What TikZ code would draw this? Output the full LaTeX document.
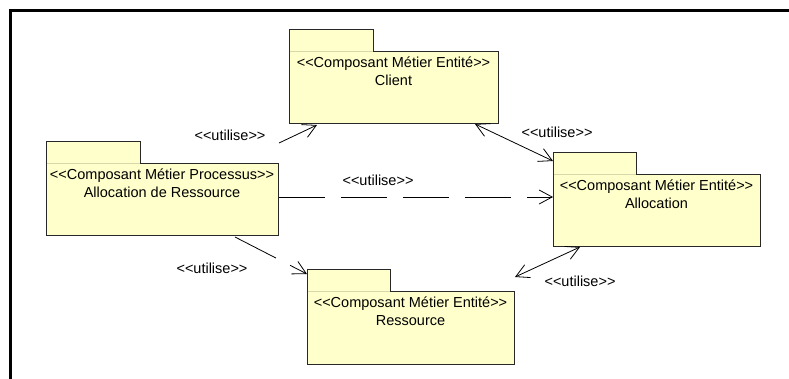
\documentclass[tikz,border=0pt]{standalone}
\usepackage{fontspec}
\setmainfont{Liberation Sans}
\usetikzlibrary{arrows.meta,calc}
\definecolor{pkgfill}{RGB}{255,255,204}
\definecolor{pkgline}{RGB}{40,40,40}
\definecolor{pkgsep}{RGB}{215,215,170}
\newcommand\ltlt{<\kern0pt<}
\newcommand\gtgt{>\kern0pt>}
\newcommand\pkgfont{\fontsize{14.5}{17}\selectfont}
\tikzset{
  pkgarea/.style={anchor=north west, inner sep=0pt, outer sep=0pt, draw=none},
  pkgshape/.style={fill=pkgfill, draw=pkgline, line width=0.9pt, line join=miter},
  pkgsepline/.style={draw=pkgsep, line width=0.8pt},
  pkgtext/.style={anchor=base, inner sep=0pt, font=\pkgfont},
  lbl/.style={anchor=base, inner sep=0pt, font=\pkgfont},
  conn/.style={draw=black, line width=0.8pt},
  tipbarb/.tip={Straight Barb[length=13pt,width=14pt]},
  dep/.style={conn, dash pattern=on 46pt off 16pt, -tipbarb},
  assoc/.style={conn, tipbarb-tipbarb},
  frameline/.style={draw=black, line width=3pt}
}
\newcommand\umlpkg[8]{%
  \node[pkgarea, minimum width=#4pt, minimum height=#5pt] (#1) at (#2,#3) {};
  \filldraw[pkgshape] (#1.north west) -- ++(#6,0) -- ++(0,22) -- ($(#1.north east)+(0,22)$) -- (#1.south east) -- (#1.south west) -- cycle;
  \draw[pkgsepline] ($(#1.north west)+(0.5,22)$) -- ++(#6-1,0);
  \node[pkgtext] (#1-st) at ($(#1.north west)+(#4/2,38)$) {#7};
  \node[pkgtext] (#1-nm) at ($(#1.north west)+(#4/2,56.5)$) {#8};
}
\begin{document}
\begin{tikzpicture}[x=1pt,y=-1pt]
\useasboundingbox (0,0) rectangle (789,378);
\draw[frameline] (10.5,380) -- (10.5,10.5) -- (790,10.5);

\umlpkg{client}{289}{29}{209}{94}{84}{\ltlt Composant Métier Entité\gtgt}{Client}
\umlpkg{proc}{46}{141}{232}{94}{94}{\ltlt Composant Métier Processus\gtgt}{Allocation de Ressource}
\umlpkg{alloc}{553}{152}{207}{94}{83}{\ltlt Composant Métier Entité\gtgt}{Allocation}
\umlpkg{res}{307}{269}{207}{95}{83}{\ltlt Composant Métier Entité\gtgt}{Ressource}

% connectors
\draw[dep] ($(proc.north east)+(1,2)$) -- ($(client.south west)+(28,2)$);
\draw[assoc] ($(client.south east)+(-23,1)$) -- ($(alloc.north west)+(0,9)$);
\draw[dep] ($(proc.north east)+(1,56)$) -- ($(alloc.north west)+(0,45)$);
\draw[dep] ($(proc.south west)+(189,2)$) -- ($(res.north west)+(0,5)$);
\draw[assoc] ($(alloc.south west)+(27,1)$) -- ($(res.north east)+(1,8)$);

% labels
\node[lbl] (l1) at (230,140) {\ltlt utilise\gtgt};
\node[lbl] (l2) at (557,137) {\ltlt utilise\gtgt};
\node[lbl] (l3) at (378,185) {\ltlt utilise\gtgt};
\node[lbl] (l4) at (212,273) {\ltlt utilise\gtgt};
\node[lbl] (l5) at (580,286) {\ltlt utilise\gtgt};
\end{tikzpicture}
\end{document}
